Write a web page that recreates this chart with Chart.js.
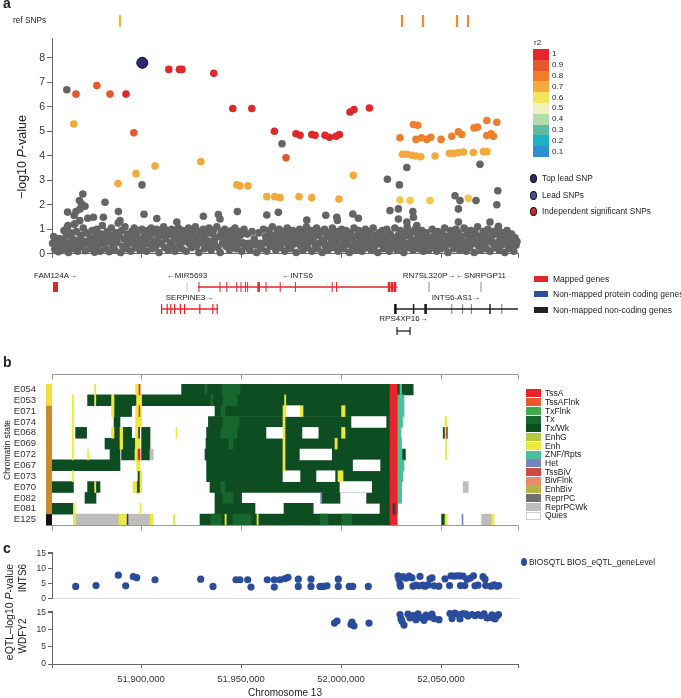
<!DOCTYPE html>
<html>
<head>
<meta charset="utf-8">
<script src="https://cdn.jsdelivr.net/npm/chart.js@4.4.0/dist/chart.umd.min.js"></script>
<style>
  body { margin: 0; width: 681px; height: 698px; position: relative; background: #fff; overflow: hidden;
         font-family: "Liberation Sans", Arial, sans-serif; color: #222; }
  canvas { position: absolute; left: 0; }
  .t { position: absolute; white-space: nowrap; line-height: 1; }
  .r { position: absolute; white-space: nowrap; line-height: 1; transform: translate(-50%, -50%) rotate(-90deg); }
  .b { position: absolute; }
</style>
</head>
<body>
<script>
// ---- shared axis range, kb on chromosome 13 ----
const X_MIN = 51855.5, X_MAX = 52088.5;
const axisTicks = [51900, 51950, 52000, 52050];

// ---- panel a : GWAS SNPs [position kb, -log10 P] ----
const topLead = [[51900.65, 7.8]];
const r2_10 = [[51892.5,6.52],[51913.9,7.53],[51919.2,7.53],[51920.5,7.53],[51936.4,7.37],[51945.9,5.93],[51955.4,5.93],
  [51966.7,5.0],[51977.5,4.9],[51979.5,4.84],[51985.4,4.87],[51987,4.84],[51992,4.84],[51994.2,4.76],[51997.5,4.8],
  [51999.2,4.87],[52004.5,5.79],[52006.5,5.89],[52014.2,5.95]];
const r2_09 = [[51867.5,6.52],[51877.9,6.87],[51884.5,6.52],[51896.4,4.94],[51972.5,3.92]];
const r2_08 = [[52029.5,4.74],[52036.2,5.28],[52038.4,5.25],[52037.5,4.67],[52040.3,4.74],[52042.9,4.67],[52044.9,4.76],
  [52050,4.67],[52055.4,4.8],[52058.7,4.98],[52060.4,4.87],[52066.5,5.14],[52068.2,5.17],[52072.9,5.44],[52077.9,5.37],
  [52072.9,4.83],[52075,4.9],[52076.2,4.8]];
const r2_07 = [[51866.4,5.3],[51888.5,2.87],[51897.5,3.27],[51907,3.58],[51929.9,3.76],[51947.9,2.81],[51949.5,2.77],
  [51953.5,2.77],[51962.9,2.33],[51966.9,2.33],[51969.5,2.29],[51979,2.33],[51985.4,2.29],[51999,2.23],[52006.2,3.2],
  [52030.7,4.06],[52032.9,4.06],[52035.4,4.02],[52037.5,3.99],[52039.9,3.96],[52047,3.99],[52054.2,4.1],[52056.5,4.1],
  [52058.7,4.13],[52061.2,4.15],[52066.2,4.13],[52071.2,4.17],[52072.9,4.17]];
const r2_06 = [[52029.5,2.19],[52034.5,2.17],[52044.5,2.17],[52063.7,2.26]];
const grayHigh = [[51862.9,6.7],[51900.5,2.81],[51970.5,4.49],[52023.2,3.04],[52029.2,2.81],[52032.9,3.52],[52069.5,3.65],
  [51863.3,1.7],[51866.6,1.56],[51867.5,1.72],[51869.2,2.17],[51870.9,2.44],[51870.4,2.03],[51872,1.94],[51869.5,1.83],
  [51876.2,1.49],[51882,2.1],[51881.2,1.49],[51888.7,1.72],[51889.5,1.35],[51901.5,1.61],[51907.9,1.44],[51917.9,1.29],
  [51931.2,1.53],[51938.7,1.6],[51939.5,1.42],[51948.2,1.72],[51962.9,1.58],[51968.7,1.69],[51982.9,1.37],[51992.4,1.57],
  [51997.9,1.49],[51998.2,1.36],[52005.9,1.62],[52008.7,1.45],[52024.5,1.76],[52028.7,1.83],[52028.7,1.42],[52035.9,1.72],
  [52036.2,1.49],[52032.9,1.29],[52037.9,1.15],[52057,2.37],[52059.5,2.17],[52067.5,2.17],[52058.7,1.83],[52058.7,1.29],
  [52078.4,2.57],[52077.9,2.0],[52074.5,1.29],[52078.7,1.12],[52062,1.0],[51863.5,1.15],[51867,1.22]];
const grayLow = [
  [51855.8,.42],[51856.3,.7],[51856.9,.18],[51857.5,.55],[51858.1,.3],[51858.7,.08],[51859.2,.62],[51859.8,.35],[51860.4,.15],
  [51861,.5],[51861.5,.95],[51862.1,.25],[51862.6,.72],[51863.2,1.1],[51863.8,.05],[51864.3,.45],[51864.9,.85],[51865.5,.2],
  [51866,.6],[51866.6,1.2],[51867.1,.35],[51867.7,.9],[51868.3,.1],[51868.8,.55],[51869.4,1.35],[51870,.75],[51870.5,.3],
  [51871.1,1.05],[51871.7,.5],[51872.2,.12],[51872.8,.85],[51873.4,1.45],[51873.9,.4],[51874.5,.65],[51875.1,.2],[51875.6,.95],
  [51876.2,.45],[51876.8,.06],[51877.3,.7],[51877.9,1.0],[51878.4,.3],[51879,.55],[51879.6,.1],[51880.1,.8],[51880.7,1.15],
  [51881.3,.4],[51881.8,.62],[51882.4,.2],[51883,.9],[51883.5,.5],[51884.1,.08],[51884.7,.75],[51885.2,1.05],[51885.8,.35],
  [51886.4,.6],[51886.9,.15],[51887.5,.85],[51888.1,.45],[51888.6,1.25],[51889.2,.7],[51889.8,.05],[51890.3,.95],[51890.9,.3],
  [51891.5,.6],[51892,1.1],[51892.6,.2],[51893.2,.8],[51893.7,.4],[51894.3,.65],[51894.9,.1],[51895.4,.9],[51896,.5],
  [51896.6,1.05],[51897.1,.25],[51897.7,.75],[51898.3,.45],[51898.8,.95],[51899.4,.15],[51900,.6],[51900.5,1.0],[51901.1,.35],
  [51901.7,.8],[51902.2,.55],[51902.8,.1],[51903.4,.95],[51903.9,.4],[51904.5,.7],[51905.1,1.05],[51905.6,.2],[51906.2,.85],
  [51906.8,.5],[51907.3,.3],[51907.9,1.0],[51908.5,.65],[51909,.05],[51909.6,.9],[51910.2,.4],[51910.7,.75],[51911.3,1.1],
  [51911.9,.25],[51912.4,.6],[51913,.95],[51913.6,.15],[51914.1,.8],[51914.7,.45],[51915.3,1.0],[51915.8,.3],[51916.4,.7],
  [51917,.1],[51917.5,.9],[51918.1,.55],[51918.7,1.05],[51919.2,.35],[51919.8,.75],[51920.4,.2],[51920.9,.95],[51921.5,.5],
  [51922.1,.85],[51922.6,.1],[51923.2,.65],[51923.8,1.05],[51924.3,.4],[51924.9,.8],[51925.5,.25],[51926,.95],[51926.6,.55],
  [51927.2,1.1],[51927.7,.3],[51928.3,.7],[51928.9,.05],[51929.4,.9],[51930,.45],[51930.6,.75],[51931.1,1.0],[51931.7,.2],
  [51932.3,.6],[51932.8,.85],[51933.4,.35],[51934,1.05],[51934.5,.5],[51935.1,.15],[51935.7,.8],[51936.2,.95],[51936.8,.4],
  [51937.4,.65],[51937.9,1.1],[51938.5,.25],[51939.1,.7],[51939.6,.05],[51940.2,.9],[51940.8,.45],[51941.3,.75],[51941.9,1.0],
  [51942.5,.3],[51943,.6],[51943.6,.85],[51944.2,.15],[51944.7,.5],[51945.3,.95],[51945.9,.35],[51946.4,.7],[51947,1.05],
  [51947.6,.2],[51948.1,.55],[51948.7,.9],[51949.3,.4],[51949.8,.75],[51950.4,.1],[51951,.45],[51951.5,1.0],[51952.1,.3],
  [51952.7,.4],[51953.2,.8],[51953.8,.42],[51954.4,.15],[51954.9,.38],[51955.5,.9],[51956.1,.44],[51956.6,.6],[51957.2,.36],
  [51957.8,.05],[51958.3,.4],[51958.9,.85],[51959.5,.42],[51960,.2],[51960.6,.38],[51961.2,1.0],[51961.7,.45],[51962.3,.7],
  [51962.9,.1],[51963.4,.55],[51964,.95],[51964.6,.3],[51965.1,.75],[51965.7,1.1],[51966.3,.4],[51966.8,.6],[51967.4,.15],
  [51968,.85],[51968.5,.5],[51969.1,1.0],[51969.7,.25],[51970.2,.7],[51970.8,.45],[51971.4,.9],[51971.9,.1],[51972.5,.6],
  [51973.1,1.05],[51973.6,.35],[51974.2,.8],[51974.8,.2],[51975.3,.55],[51975.9,.95],[51976.5,.4],[51977,.7],[51977.6,.05],
  [51978.2,.85],[51978.7,.5],[51979.3,1.0],[51979.9,.3],[51980.4,.65],[51981,.15],[51981.6,.9],[51982.1,.45],[51982.7,1.1],
  [51983.3,.25],[51983.8,.7],[51984.4,.5],[51985,.95],[51985.5,.1],[51986.1,.6],[51986.7,.8],[51987.2,.35],[51987.8,1.05],
  [51988.4,.2],[51988.9,.75],[51989.5,.45],[51990.1,.9],[51990.6,.05],[51991.2,.55],[51991.8,1.0],[51992.3,.3],[51992.9,.7],
  [51993.5,.15],[51994,.85],[51994.6,.4],[51995.2,.6],[51995.7,1.05],[51996.3,.25],[51996.9,.75],[51997.4,.5],[51998,.9],
  [51998.6,.1],[51999.1,.65],[51999.7,.35],[52000.3,1.0],[52000.8,.8],[52001.4,.2],[52002,.55],[52002.5,.95],[52003.1,.4],
  [52003.7,.7],[52004.2,.05],[52004.8,.85],[52005.4,.3],[52005.9,.6],[52006.5,1.05],[52007.1,.45],[52007.6,.15],[52008.2,.75],
  [52008.8,.95],[52009.3,.35],[52009.9,.55],[52010.5,.1],[52011,.8],[52011.6,.4],[52012.2,1.0],[52012.7,.25],[52013.3,.65],
  [52013.9,.45],[52014.4,.9],[52015,.15],[52015.6,.6],[52016.1,1.05],[52016.7,.3],[52017.3,.75],[52017.8,.5],[52018.4,.05],
  [52019,.85],[52019.5,.4],[52020.1,.6],[52020.7,.95],[52021.2,.2],[52021.8,.7],[52022.4,.35],[52022.9,1.0],[52023.5,.55],
  [52024.1,.1],[52024.6,.8],[52025.2,.45],[52025.8,.25],[52026.3,.65],[52026.9,1.05],[52027.5,.4],[52028,.15],[52028.6,.75],
  [52029.2,.5],[52029.7,.95],[52030.3,.3],[52030.9,.6],[52031.4,.05],[52032,.85],[52032.6,.4],[52033.1,1.1],[52033.7,.25],
  [52034.3,.7],[52034.8,.45],[52035.4,.9],[52036,.15],[52036.5,.55],[52037.1,1.0],[52037.7,.35],[52038.2,.8],[52038.8,.2],
  [52039.4,.6],[52039.9,.45],[52040.5,.95],[52041.1,.1],[52041.6,.7],[52042.2,.3],[52042.8,.85],[52043.3,.5],[52043.9,.15],
  [52044.5,.65],[52045,.4],[52045.6,1.0],[52046.2,.25],[52046.7,.75],[52047.3,.5],[52047.9,.1],[52048.4,.9],[52049,.35],
  [52049.6,.6],[52050.1,.2],[52050.7,.8],[52051.3,.45],[52051.8,1.05],[52052.4,.3],[52053,.7],[52053.5,.05],[52054.1,.55],
  [52054.7,.95],[52055.2,.4],[52055.8,.75],[52056.4,.2],[52056.9,.6],[52057.5,1.0],[52058.1,.35],[52058.6,.85],[52059.2,.15],
  [52059.8,.5],[52060.3,.7],[52060.9,.3],[52061.5,1.05],[52062,.45],[52062.6,.1],[52063.2,.8],[52063.7,.55],[52064.3,.25],
  [52064.9,.95],[52065.4,.4],[52066,.65],[52066.6,.05],[52067.1,.85],[52067.7,.45],[52068.3,1.1],[52068.8,.3],[52069.4,.7],
  [52070,.15],[52070.5,.55],[52071.1,.9],[52071.7,.35],[52072.2,.75],[52072.8,.2],[52073.4,1.0],[52073.9,.5],[52074.5,.1],
  [52075.1,.65],[52075.6,.9],[52076.2,.4],[52076.8,.25],[52077.3,.8],[52077.9,.45],[52078.5,1.05],[52079,.15],[52079.6,.6],
  [52080.2,.35],[52080.7,.85],[52081.3,.5],[52081.9,.05],[52082.4,.7],[52083,.95],[52083.6,.3],[52084.1,.55],[52084.7,.2],
  [52085.3,.8],[52085.8,.45],[52086.4,.1],[52087,.65],[52087.5,.35],[52088,.5]];
const refSnp07 = [51889.5];
const refSnp08 = [52030.5, 52041, 52058, 52063.5];

const r2Labels = ['1','0.9','0.8','0.7','0.6','0.5','0.4','0.3','0.2','0.1'];
const r2Colors = ['#e3262a','#e8572b','#ef7e2b','#f6aa3e','#f3e55b','#eef2c0','#b2dcaa','#5cbba0','#1db3c2','#2f90cd'];

// ---- genes ----
const geneNames = ['FAM124A→','←MIR5693','←INTS6','RN7SL320P→','←SNRPGP11','SERPINE3→','INTS6-AS1→','RPS4XP16→'];
const geneStart = [51856.0, 51923.0, 51928.5, 52044.0, 52070.0, 51910.0, 52026.5, 52028.0];
const geneEnd   = [51858.5, 51923.0, 52028.0, 52044.0, 52070.0, 51938.5, 52088.5, 52034.5];
const geneLane  = [1, 1, 1, 1, 1, 2, 2, 3];
const geneColor = ['#e3262a', '#c8c8c8', '#e3262a', '#8a8a8a', '#8a8a8a', '#e3262a', '#222', '#222'];
const ints6Exons = [51929, 51939.5, 51942.9, 51947.9, 51950, 51952.2, 51953.3, 51962.5, 51969.6, 51977.2, 51995.6, 51997.8];
const ints6Thick = [51958.8, 52024, 52025.5, 52027];
const serpine3Exons = [51910.3, 51913.1, 51914.9, 51916.8, 51919.7, 51921.8, 51929.4, 51935.9, 51938.1];
const as1Thick = [52027.2, 52042.3];
const as1Mid = [52036.3, 52074.5];
const as1Thin = [52055.4, 52060.8, 52065.2, 52080.4];

// ---- panel b : chromatin states, [row, start kb, end kb] ----
const rows = ['E054','E053','E071','E074','E068','E069','E072','E067','E073','E070','E082','E081','E125'];
const sideColors = ['#f0df3c','#f0df3c','#c78a2c','#c78a2c','#c78a2c','#c78a2c','#c78a2c','#c78a2c','#c78a2c','#c78a2c','#c78a2c','#c78a2c','#111'];
const stTxWk = [[0,51920.3,52036.1],[1,51873.3,51885.3],[1,51886.5,51897.8],[1,51900.3,52028.1],[2,51886.5,51895.3],[2,51937,52028.1],
  [3,51886.5,51889.5],[3,51933.7,52028.1],[4,51867.3,51872.8],[4,51886.5,51889.5],[4,51890.8,51895.3],[4,51900.3,51904.5],
  [4,51932.8,52028.1],[4,52051.1,52052.3],[5,51882,51889.5],[5,51890.8,51897],[5,51900.3,51904.5],[5,51932.5,52028.1],
  [6,51884.5,51889.5],[6,51890.3,51897],[6,51900.3,51904.5],[6,51932,52032.2],[7,51855.5,51889.5],[7,51932.8,52028.1],
  [8,51898.5,51899.5],[8,51932.8,52028.1],[9,51855.5,51866.2],[9,51873.3,51879.5],[9,51897.8,51899.5],[9,51934.5,52028.1],
  [10,51872,51877.5],[10,51937,51950.3],[10,51990.3,51999.5],[10,52012.8,52028.1],[11,51855.5,51866.2],[11,51937,51957],
  [11,51971.5,51986.1],[11,52019.5,52028.1],[12,51929.5,52024.5],[12,52050.3,52052]];
const stTx = [[0,51940.5,51949.5],[0,51932,51933],[1,51941,51948],[1,51935,51936],[2,51940,51942],[3,51941,51949],[4,51940,51948],
  [5,51944,51946],[9,51940,51942],[10,51941,51946],[12,51935,51940],[12,51946,51955],[12,51989.5,51993.5],[12,52000.3,52005.3]];
const stQuies = [[2,51972.5,51979.5],[3,52005.3,52022.5],[4,51962.8,51971.1],[4,51980.8,51988.6],[6,51979.5,51995.3],
  [7,52006.1,52019.5],[8,51971,51979.5],[8,51987.8,51997],[9,51999.5,52015.3]];
const stEnh = [[0,51876.8,51877.4],[0,51897.3,51899.5],[1,51865.6,51866.2],[1,51876.8,51877.4],[1,51885.3,51886.5],[1,51897.8,51900.3],
  [1,51971.8,51972.4],[2,51865.6,51866.2],[2,51885.3,51886.5],[2,51897.3,51900.3],[2,51971,51972.5],[2,51979.5,51981],[2,52000.3,52002],
  [3,51865.6,51866.2],[3,51897.3,51900.3],[3,51971,51972],[3,52052,52052.8],[4,51865.6,51866.2],[4,51885.3,51886.5],
  [4,51889.5,51890.8],[4,51897.3,51898.8],[4,51917.5,51918],[4,51971,51972],[4,52000.3,52002],[4,52052,52052.8],
  [5,51865.6,51866.2],[5,51889.5,51890.8],[5,51897.3,51899.5],[5,51971,51972],[5,51997,51998.1],[5,52052.2,52052.8],
  [6,51865.6,51866.2],[6,51873.3,51873.8],[6,51897,51899.5],[6,51971,51972],[6,52052.2,52052.8],[7,51897.8,51899.5],
  [7,51971,51972],[8,51865.6,51866.2],[8,51899.5,51900.3],[8,51998.5,52001],[9,51876.8,51877.4],[9,51896,51897.8],
  [9,51899.5,51900.3],[11,51866.2,51867],[11,51899.5,51900],[12,51866.2,51867.3],[12,51889,51892.5],[12,51904.5,51906.1],
  [12,51916.1,51917],[12,51942,51942.6],[12,51958,51958.6],[12,52052,52053],[12,52075.3,52076.5]];
const stTssA = [[0,52024.5,52028.1],[1,52024.5,52028.1],[2,52024.5,52028.1],[3,52024.5,52028.1],[4,52024.5,52028.1],
  [5,52024.5,52028.1],[6,52024.5,52028.1],[7,52024.5,52028.1],[8,52024.5,52028.1],[9,52024.5,52028.1],[10,52024.5,52028.1],
  [11,52024.5,52028.1],[12,52024.5,52028.1],[0,51899,51899.5],[2,51899,51899.4],[6,51898.5,51899.5]];
const stZnf = [[0,52029.5,52030.3],[1,52028.1,52031.5],[2,52028.5,52031.5],[3,52028.1,52030.8],[4,52028.1,52030],[5,52028.1,52030.3],
  [6,52028.1,52030.5],[7,52028.1,52031.5],[8,52028.1,52031],[9,52028.1,52030.3],[10,52028.1,52030.3]];
const stReprPCWk = [[6,51904.5,51906.1],[9,52061.1,52063.6],[12,51867.3,51889],[12,51893.5,51904.5],[12,52070.3,52075.3]];
const stReprPC = [[4,51898.8,51899.3],[11,52026,52027],[12,51893,51893.5]];
const stTssBiv = [[4,52052.6,52053.3]];
const stHet = [[10,51989.8,51990.3],[12,52060.5,52061]];

const stateNames = ['TssA','TssAFlnk','TxFlnk','Tx','Tx/Wk','EnhG','Enh','ZNF/Rpts','Het','TssBiV','BivFlnk','EnhBiv','ReprPC','ReprPCWk','Quies'];
const stateColors = ['#e8232a','#ea5a2d','#3fae49','#17672f','#0d4d21','#b3cc3f','#ede93c','#4dbf98','#7485c4','#cf4a45','#e98a6a','#b5b34a','#707070','#bdbdbd','#ffffff'];

// ---- panel c : eQTL [position kb, -log10 P] ----
const eqtlInts6 = [[51867.35,4.1],[51877.5,4.4],[51888.65,7.8],[51892.35,4.3],[51896.15,7.3],[51897.85,7.0],[51907,6.3],
  [51929.85,6.5],[51936,4.1],[51947.5,6.3],[51949.5,6.3],[51953.35,6.3],[51955,3.9],[51963.15,6.3],[51966.65,6.3],
  [51966.65,3.9],[51969.5,6.3],[51972,6.7],[51973.5,7.1],[51978.65,6.5],[51978.65,4.1],[51985,6.5],[51985,4.1],
  [51989.5,4.1],[51991.15,4.1],[51993,4.3],[51998.65,6.5],[51998.65,4.1],[52004.15,4.1],[52005.85,4.1],[52013.65,4.1],
  [52028.5,7.6],[52029,6.5],[52029.5,4.9],[52029.75,4.2],[52031,7.3],[52032.5,6.8],[52034,7.5],[52035.5,6.9],[52036,4.2],
  [52037.5,4.5],[52039,4.3],[52039.5,7.4],[52041,4.5],[52042,4.2],[52043.5,4.6],[52044.5,6.6],[52045.5,6.9],[52046.5,4.3],
  [52048.9,4.2],[52052,6.6],[52054.3,4.4],[52055,7.6],[52056.5,7.5],[52058,7.6],[52059.5,7.6],[52059.75,4.4],[52061,7.5],
  [52061.9,4.4],[52063,6.5],[52064.5,6.8],[52066.25,7.6],[52067,4.3],[52068.5,4.5],[52071,7.3],[52072,6.5],[52072.35,4.4],
  [52075,4.2],[52076.5,4.6],[52078,4.2],[52078.85,4.4]];
const eqtlWdfy2 = [[51996.75,12.0],[51998,12.6],[52005,11.6],[52005.5,12.3],[52006.5,11.2],[52014,12.0],[52029.5,14.5],
  [52030,13.2],[52030.5,12.5],[52031.5,11.4],[52033.5,14.6],[52034.5,13.5],[52036,14.2],[52037.5,13.0],[52038.5,14.7],
  [52040,13.6],[52041.5,12.8],[52042.5,14.3],[52044,13.8],[52045.5,14.6],[52046.5,13.3],[52049,13.0],[52054.5,14.8],
  [52055.5,13.3],[52057,14.9],[52058.5,14.5],[52059.5,13.2],[52061,14.8],[52062.5,14.6],[52063.5,14.1],[52065.5,14.5],
  [52067,14.2],[52068.5,14.5],[52070,14.2],[52071.5,14.7],[52073,13.5],[52074.5,13.6],[52075.5,14.4],[52077,13.2],
  [52078,14.1],[52078.75,14.5]];
const eqtlTicks = [0, 5, 10, 15];

// ---- helpers ----
Chart.defaults.font.family = '"Liberation Sans", Arial, sans-serif';
const base = { responsive: false, animation: false, devicePixelRatio: 1, events: [],
  plugins: { legend: { display: false }, tooltip: { enabled: false } } };
function pad(left, right, top, bottom) {
  return { autoPadding: false, padding: { left, right, top, bottom } };
}

function makeCanvas(top, height) {
  const c = document.createElement('canvas');
  c.width = 681; c.height = height;
  c.style.top = top + 'px';
  document.body.appendChild(c);
  return c.getContext('2d');
}
function setTicks(scale) {
  scale.ticks = [X_MIN, ...axisTicks, X_MAX].map(v => ({ value: v }));
}
function pts(arr) { return arr.map(p => ({ x: p[0], y: p[1] })); }
function text(html, x, y, size, extra) {
  const d = document.createElement('div');
  d.className = 't';
  d.innerHTML = html;
  d.style.left = x + 'px';
  d.style.top = (y - size / 2) + 'px';
  d.style.fontSize = size + 'px';
  if (extra) Object.assign(d.style, extra);
  document.body.appendChild(d);
}
function vtext(html, cx, cy, size) {
  const d = document.createElement('div');
  d.className = 'r';
  d.innerHTML = html;
  d.style.left = cx + 'px';
  d.style.top = cy + 'px';
  d.style.fontSize = size + 'px';
  document.body.appendChild(d);
}
function box(x, y, w, h, color, extra) {
  const d = document.createElement('div');
  d.className = 'b';
  Object.assign(d.style, { left: x + 'px', top: y + 'px', width: w + 'px', height: h + 'px', background: color }, extra || {});
  document.body.appendChild(d);
}

// ---- ref SNPs strip ----
new Chart(makeCanvas(10, 22), {
  type: 'scatter',
  data: { datasets: [
    { data: refSnp07.map(x => ({ x, y: 0.5 })), pointBorderColor: '#f2b43e' },
    { data: refSnp08.map(x => ({ x, y: 0.5 })), pointBorderColor: '#ee8a30' }
  ].map(d => Object.assign(d, { pointStyle: 'line', pointRotation: 90, pointRadius: 6, pointBorderWidth: 2.2, clip: false })) },
  options: { ...base, layout: pad(52, 163, 0, 0),
    scales: { x: { type: 'linear', min: X_MIN, max: X_MAX, display: false }, y: { min: 0, max: 1, display: false } } }
});

// ---- panel a scatter ----
const dot = { pointRadius: 3.8, pointBorderWidth: 0, clip: false };
new Chart(makeCanvas(30, 232), {
  type: 'scatter',
  data: { datasets: [
    { data: pts(topLead), pointRadius: 5.5, pointBackgroundColor: '#2b2a72', pointBorderColor: '#111', pointBorderWidth: 1, clip: false, order: 1 },
    { data: pts(r2_10), pointBackgroundColor: '#e0272a', order: 2, ...dot },
    { data: pts(r2_09), pointBackgroundColor: '#e4582a', order: 3, ...dot },
    { data: pts(r2_08), pointBackgroundColor: '#ee7f2c', order: 4, ...dot },
    { data: pts(r2_07), pointBackgroundColor: '#f3a93c', order: 5, ...dot },
    { data: pts(r2_06), pointBackgroundColor: '#f4c847', order: 6, ...dot },
    { data: pts(grayHigh), pointBackgroundColor: '#646464', order: 7, ...dot },
    { data: pts(grayLow), pointBackgroundColor: '#646464', order: 8, ...dot }
  ] },
  options: { ...base, layout: pad(0, 163, 8, 0),
    scales: {
      x: { type: 'linear', min: X_MIN, max: X_MAX, afterBuildTicks: setTicks, afterFit: s => { s.height = 7; },
           ticks: { display: false }, grid: { drawOnChartArea: false, tickLength: 4, color: '#666' }, border: { color: '#666' } },
      y: { min: 0, max: 8.8, afterFit: s => { s.width = 52; },
           ticks: { stepSize: 1, includeBounds: false, font: { size: 10.5 }, color: '#333', padding: 2 },
           grid: { drawOnChartArea: false, tickLength: 5, color: '#666' }, border: { color: '#666' } }
    } }
});

// ---- gene track ----
const geneLabels = {
  id: 'geneLabels',
  afterDatasetsDraw(chart) {
    const { ctx, scales: { x, y } } = chart;
    ctx.save();
    ctx.font = '8px "Liberation Sans", Arial, sans-serif';
    ctx.fillStyle = '#222';
    ctx.textAlign = 'center';
    ctx.textBaseline = 'middle';
    geneNames.forEach((n, i) => {
      const dy = geneLane[i] === 3 ? 12 : 11;
      ctx.fillText(n, x.getPixelForValue((geneStart[i] + geneEnd[i]) / 2), y.getPixelForValue(geneLane[i]) - dy);
    });
    ctx.restore();
  }
};
const geneSets = [];
geneNames.forEach((n, i) => {
  if (geneStart[i] === geneEnd[i]) {
    geneSets.push({ data: [{ x: geneStart[i], y: geneLane[i] }], pointStyle: 'line', pointRotation: 90, pointRadius: 5,
      pointBorderColor: geneColor[i], pointBorderWidth: 1 });
  } else {
    geneSets.push({ data: [{ x: geneStart[i], y: geneLane[i] }, { x: geneEnd[i], y: geneLane[i] }], showLine: true,
      pointRadius: 0, borderColor: geneColor[i], borderWidth: i === 0 ? 10 : 1.3 });
  }
});
function exonSet(arr, lane, color, width, radius) {
  return { data: arr.map(x => ({ x, y: lane })), pointStyle: 'line', pointRotation: 90, pointRadius: radius || 5,
    pointBorderColor: color, pointBorderWidth: width };
}
geneSets.push(exonSet(ints6Exons, 1, '#e3262a', 1));
geneSets.push(exonSet(ints6Thick, 1, '#e3262a', 2.5));
geneSets.push(exonSet(serpine3Exons, 2, '#e3262a', 1.2));
geneSets.push(exonSet(as1Thick, 2, '#111', 2.5));
geneSets.push(exonSet(as1Mid, 2, '#222', 1.5));
geneSets.push(exonSet(as1Thin, 2, '#777', 1));
geneSets.push(exonSet([geneStart[7], geneEnd[7]], 3, '#222', 1.2, 4));
geneSets.forEach(d => { d.clip = false; });
new Chart(makeCanvas(265, 80), {
  type: 'scatter',
  data: { datasets: geneSets },
  options: { ...base, layout: pad(52, 163, 0, 0),
    scales: { x: { type: 'linear', min: X_MIN, max: X_MAX, display: false },
              y: { min: 0, max: 3.636, reverse: true, display: false } } },
  plugins: [geneLabels]
});

// ---- panel b heatmap ----
const hmFrame = {
  id: 'hmFrame',
  afterDraw(chart) {
    const { ctx, chartArea: a, scales: { x } } = chart;
    const h = (a.bottom - a.top) / rows.length;
    ctx.save();
    rows.forEach((r, i) => { ctx.fillStyle = sideColors[i]; ctx.fillRect(a.left - 6, a.top + i * h, 6, h + 0.5); });
    ctx.strokeStyle = '#999';
    ctx.lineWidth = 1;
    [a.top - 9.5, a.bottom + 0.5].forEach(yy => {
      ctx.beginPath();
      ctx.moveTo(a.left, yy); ctx.lineTo(a.right, yy);
      [X_MIN, ...axisTicks, X_MAX].forEach(v => {
        const px = Math.round(x.getPixelForValue(v)) + 0.5;
        ctx.moveTo(px, yy); ctx.lineTo(px, yy + 5);
      });
      ctx.stroke();
    });
    ctx.restore();
  }
};
function segSet(arr, color, order) {
  return { data: arr.map(s => ({ y: rows[s[0]], x: [s[1], s[2]] })), backgroundColor: color, order,
    grouped: false, barPercentage: 1, categoryPercentage: 1, borderWidth: 0, borderSkipped: false };
}
new Chart(makeCanvas(370, 170), {
  type: 'bar',
  data: { labels: rows, datasets: [
    segSet(stTxWk, stateColors[4], 10),
    segSet(stTx, stateColors[3], 9),
    segSet(stQuies, '#ffffff', 8),
    segSet(stReprPCWk, stateColors[13], 7),
    segSet(stEnh, stateColors[6], 6),
    segSet(stZnf, stateColors[7], 5),
    segSet(stTssA, stateColors[0], 4),
    segSet(stReprPC, '#3a3a3a', 3),
    segSet(stTssBiv, stateColors[9], 2),
    segSet(stHet, stateColors[8], 1)
  ] },
  options: { ...base, indexAxis: 'y', layout: pad(0, 163, 14, 15),
    scales: {
      x: { type: 'linear', min: X_MIN, max: X_MAX, display: false },
      y: { type: 'category', afterFit: s => { s.width = 52; }, grid: { display: false }, border: { display: false },
           ticks: { font: { size: 9.5 }, color: '#333', padding: 8, autoSkip: false } }
    } },
  plugins: [hmFrame]
});

// ---- panel c eQTL ----
const blue = { pointRadius: 3.6, pointBorderWidth: 0, pointBackgroundColor: '#2a4c9c', clip: false };
function eqtlY(max) {
  return { min: 0, max, afterFit: s => { s.width = 52; },
    afterBuildTicks: s => { s.ticks = [...eqtlTicks, max].map(v => ({ value: v })); },
    ticks: { font: { size: 8.5 }, color: '#333', padding: 2, autoSkip: false,
             callback: v => (eqtlTicks.includes(v) ? v : '') },
    grid: { drawOnChartArea: false, tickLength: 4, color: '#666' }, border: { color: '#666' } };
}
new Chart(makeCanvas(545, 61), {
  type: 'scatter',
  data: { datasets: [{ data: pts(eqtlInts6), ...blue }] },
  options: { ...base, layout: pad(0, 163, 6, 0),
    scales: {
      x: { type: 'linear', min: X_MIN, max: X_MAX, afterFit: s => { s.height = 1; }, ticks: { display: false },
           grid: { drawOnChartArea: false, drawTicks: false, color: '#ddd' }, border: { color: '#ddd' } },
      y: eqtlY(15.4)
    } }
});
new Chart(makeCanvas(604, 94), {
  type: 'scatter',
  data: { datasets: [{ data: pts(eqtlWdfy2), ...blue }] },
  options: { ...base, layout: pad(0, 163, 6, 0),
    scales: {
      x: { type: 'linear', min: X_MIN, max: X_MAX, afterBuildTicks: setTicks, afterFit: s => { s.height = 34; },
           ticks: { font: { size: 9.5 }, color: '#333', padding: 6, maxRotation: 0, autoSkip: false,
                    callback: v => (axisTicks.includes(v) ? (v * 1000).toLocaleString('en-US') : '') },
           grid: { drawOnChartArea: false, tickLength: 4, color: '#666' }, border: { color: '#666' } },
      y: eqtlY(15.5)
    } }
});

// ---- texts and legends ----
text('a', 3, 3, 14, { fontWeight: 'bold' });
text('b', 3, 362, 14, { fontWeight: 'bold' });
text('c', 3, 548, 14, { fontWeight: 'bold' });
text('ref SNPs', 13, 20, 8.3);
vtext('\u2212log10 <i>P</i>-value', 22, 157, 12.5);
vtext('Chromatin state', 7, 450, 8.5);
vtext('eQTL\u2013log10 <i>P</i>-value', 9, 612, 10.5);
vtext('INTS6', 22.5, 578, 10);
vtext('WDFY2', 22.5, 636, 10);
text('Chromosome 13', 285, 693, 10, { transform: 'translateX(-50%)' });

text('r2', 534, 43, 8);
r2Colors.forEach((c, i) => {
  box(533, 49 + i * 10.8, 16, 10.8, c);
  text(r2Labels[i], 552, 54.4 + i * 10.8, 8);
});
const snpLegend = [['Top lead SNP', '#2b2a72', 178], ['Lead SNPs', '#4e4c9c', 195], ['Independent significant SNPs', '#d9262d', 211]];
snpLegend.forEach(([t, c, y]) => {
  box(529.5, y - 4.5, 7, 9, c, { borderRadius: '50%', border: '1px solid #111', boxSizing: 'border-box' });
  text(t, 542, y, 8.3);
});
const geneLegend = [['Mapped genes', '#e3262a', 279], ['Non-mapped protein coding genes', '#2a4ea0', 294], ['Non-mapped non-coding genes', '#222', 310]];
geneLegend.forEach(([t, c, y]) => {
  box(534, y - 3, 14, 6, c);
  text(t, 553, y, 8.5);
});
stateNames.forEach((n, i) => {
  const y = 389 + i * 8.73;
  box(526, y + 0.4, 15, 8, stateColors[i], i === 14 ? { border: '1px solid #ccc', boxSizing: 'border-box' } : null);
  text(n, 545, y + 4.4, 8.5);
});
box(521, 558, 6, 8, '#2a4c9c', { borderRadius: '50%' });
text('BIOSQTL BIOS_eQTL_geneLevel', 529, 562, 8.3);
</script>
</body>
</html>
